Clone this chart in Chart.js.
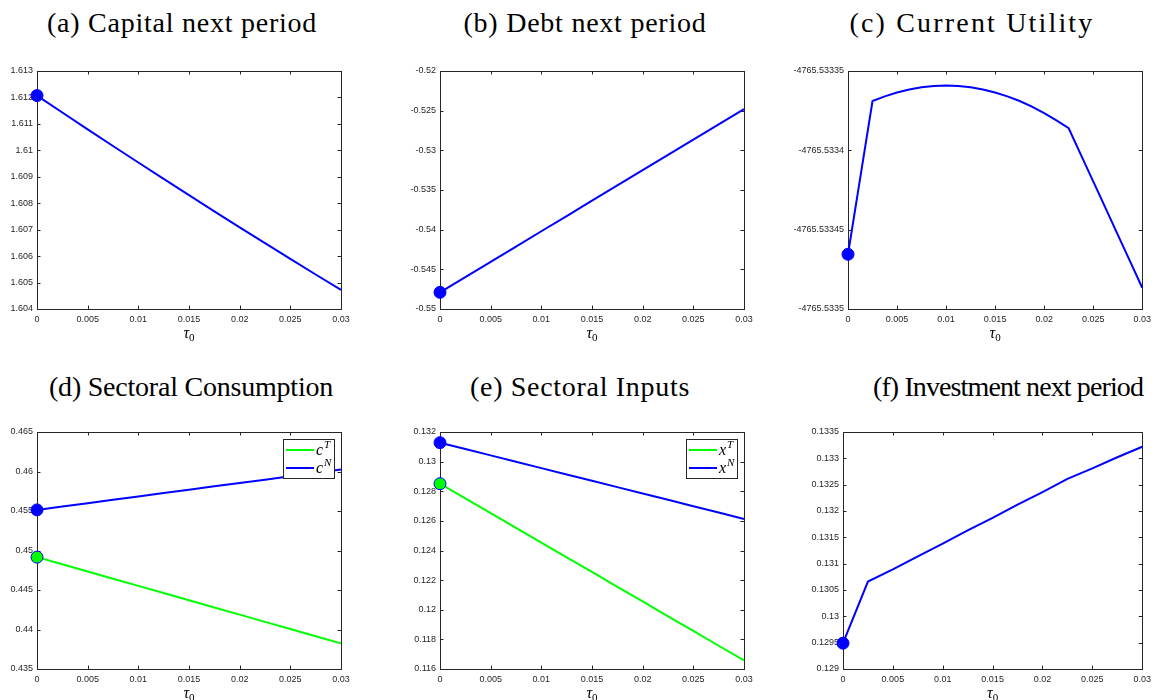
<!DOCTYPE html>
<html>
<head>
<meta charset="utf-8">
<script src="https://cdn.jsdelivr.net/npm/chart.js@4.4.1/dist/chart.umd.min.js"></script>
<style>
  html, body { margin: 0; padding: 0; background: #fff; }
  body { width: 1156px; height: 700px; position: relative; overflow: hidden; }
  .panel { position: absolute; }
  .panel canvas { position: absolute; left: 0; top: 0; }
  .title {
    position: absolute; white-space: nowrap; transform: translateX(-50%);
    font-family: "Liberation Serif", "DejaVu Serif", serif; font-size: 28px; line-height: 30px; color: #000;
  }
</style>
</head>
<body>
<script>
// tau_0 grids and axis ticks
const tau = [0, 0.0025, 0.005, 0.0075, 0.01, 0.0125, 0.015, 0.0175, 0.02, 0.0225, 0.025, 0.0275, 0.03];
const tauFine = [0, 0.00125, 0.0025, 0.00375, 0.005, 0.00625, 0.0075, 0.00875, 0.01, 0.01125, 0.0125, 0.01375, 0.015,
                 0.01625, 0.0175, 0.01875, 0.02, 0.02125, 0.0225, 0.02375, 0.025, 0.02625, 0.0275, 0.02875, 0.03];
const tauTicks = [0, 0.005, 0.01, 0.015, 0.02, 0.025, 0.03];

// (a) capital next period
const capitalNext = [1.61207, 1.61143, 1.610795, 1.610165, 1.60954, 1.60892, 1.608305, 1.607695, 1.60709, 1.60649, 1.605895, 1.605305, 1.60472];
const capitalTicks = [1.604, 1.605, 1.606, 1.607, 1.608, 1.609, 1.61, 1.611, 1.612, 1.613];

// (b) debt next period
const debtNext = [-0.5479, -0.54598, -0.54405, -0.54213, -0.5402, -0.53828, -0.53635, -0.53443, -0.5325, -0.53058, -0.52865, -0.52673, -0.5248];
const debtTicks = [-0.55, -0.545, -0.54, -0.535, -0.53, -0.525, -0.52];

// (c) current utility, on the finer grid
const utility = [-4765.5334655, -4765.5334172, -4765.5333689, -4765.5333660, -4765.5333636, -4765.5333617, -4765.5333603,
                 -4765.5333595, -4765.5333592, -4765.5333595, -4765.5333603, -4765.5333617, -4765.5333636, -4765.5333660,
                 -4765.5333689, -4765.5333725, -4765.5333765, -4765.5333811, -4765.5333861, -4765.5334029, -4765.5334196,
                 -4765.5334363, -4765.5334531, -4765.5334698, -4765.5334866];
const utilityTicks = [-4765.5335, -4765.53345, -4765.5334, -4765.53335];

// (d) sectoral consumption
const consT = [0.44916, 0.44825, 0.44734, 0.44643, 0.44552, 0.44461, 0.4437, 0.44279, 0.44188, 0.44097, 0.44006, 0.43915, 0.43824];
const consN = [0.45514, 0.45557, 0.45599, 0.45642, 0.45684, 0.45727, 0.45769, 0.45812, 0.45854, 0.45897, 0.45939, 0.45982, 0.46024];
const consTicks = [0.435, 0.44, 0.445, 0.45, 0.455, 0.46, 0.465];

// (e) sectoral inputs
const inputT = [0.12851, 0.12752, 0.12652, 0.12553, 0.12453, 0.12354, 0.12255, 0.12155, 0.12056, 0.11956, 0.11857, 0.11757, 0.11658];
const inputN = [0.13128, 0.13085, 0.13042, 0.12999, 0.12956, 0.12913, 0.12871, 0.12828, 0.12785, 0.12742, 0.12699, 0.12656, 0.12613];
const inputTicks = [0.116, 0.118, 0.12, 0.122, 0.124, 0.126, 0.128, 0.13, 0.132];

// (f) investment next period
const investNext = [0.12949, 0.13066, 0.13089, 0.13114, 0.13138, 0.13163, 0.13187, 0.13212, 0.13236, 0.13261, 0.13281, 0.13302, 0.13322];
const investTicks = [0.129, 0.1295, 0.13, 0.1305, 0.131, 0.1315, 0.132, 0.1325, 0.133, 0.1335];

const BLUE = '#0000ff';
const GREEN = '#00ff00';
const AXIS = '#262626';
const SERIF = '"Liberation Serif", "DejaVu Serif", serif';
const SANS = '"Liberation Sans", Arial, sans-serif';

// draws the box and inward tick marks on all four sides
const framePlugin = {
  id: 'frame',
  beforeDatasetsDraw(chart) {
    const { ctx, chartArea: a, scales } = chart;
    const L = 3.5;
    ctx.save();
    ctx.strokeStyle = AXIS;
    ctx.lineWidth = 1;
    ctx.beginPath();
    scales.x.ticks.forEach(t => {
      const px = Math.round(scales.x.getPixelForValue(t.value)) + 0.5;
      ctx.moveTo(px, a.bottom); ctx.lineTo(px, a.bottom - L);
      ctx.moveTo(px, a.top); ctx.lineTo(px, a.top + L);
    });
    scales.y.ticks.forEach(t => {
      const py = Math.round(scales.y.getPixelForValue(t.value)) + 0.5;
      ctx.moveTo(a.left, py); ctx.lineTo(a.left + L, py);
      ctx.moveTo(a.right, py); ctx.lineTo(a.right - L, py);
    });
    ctx.stroke();
    ctx.strokeRect(Math.round(a.left) + 0.5, Math.round(a.top) + 0.5,
                   Math.round(a.right - a.left), Math.round(a.bottom - a.top));
    ctx.restore();
  },
  afterDraw(chart, args, opts) {
    const { ctx, chartArea: a } = chart;
    ctx.save();
    // x-axis label: tau with subscript 0
    const cx = (a.left + a.right) / 2;
    const by = a.bottom + 29;
    ctx.fillStyle = '#000';
    ctx.textBaseline = 'alphabetic';
    ctx.font = 'italic 16px ' + SERIF;
    const wt = ctx.measureText('τ').width;
    ctx.font = '11px ' + SERIF;
    const w0 = ctx.measureText('0').width;
    let x = cx - (wt + w0) / 2;
    ctx.font = 'italic 16px ' + SERIF;
    ctx.fillText('τ', x, by);
    ctx.font = '11px ' + SERIF;
    ctx.fillText('0', x + wt, by + 3);

    // legend box with superscript labels
    if (opts.legend) {
      const items = chart.data.datasets.map(d => ({ color: d.borderColor, base: opts.legend.base, sup: d.label }));
      ctx.font = 'italic 16px ' + SERIF;
      const wb = ctx.measureText(opts.legend.base).width;
      ctx.font = 'italic 11px ' + SERIF;
      const ws = Math.max(...items.map(it => ctx.measureText(it.sup).width));
      const bw = Math.round(3 + 28 + 2 + wb + ws + 4);
      const bh = 39;
      const bx = Math.round(a.right - 7 - bw);
      const byy = Math.round(a.top + 7);
      ctx.fillStyle = '#fff';
      ctx.fillRect(bx, byy, bw, bh);
      ctx.strokeStyle = AXIS;
      ctx.lineWidth = 1;
      ctx.strokeRect(bx + 0.5, byy + 0.5, bw, bh);
      items.forEach((it, i) => {
        const ly = byy + 11 + i * 18;
        ctx.strokeStyle = it.color;
        ctx.lineWidth = 2;
        ctx.beginPath();
        ctx.moveTo(bx + 3, ly); ctx.lineTo(bx + 31, ly);
        ctx.stroke();
        ctx.fillStyle = '#000';
        ctx.font = 'italic 16px ' + SERIF;
        ctx.fillText(it.base, bx + 33, ly + 5);
        ctx.font = 'italic 11px ' + SERIF;
        ctx.fillText(it.sup, bx + 33 + wb + 1, ly - 2);
      });
    }
    ctx.restore();
  }
};

function series(values, color, fill, label, grid) {
  const xs = grid || tau;
  return {
    label: label || '',
    data: xs.map((t, i) => ({ x: t, y: values[i] })),
    borderColor: color,
    borderWidth: 2,
    pointRadius: c => (c.dataIndex === 0 ? 6 : 0),
    pointBackgroundColor: fill || color,
    pointBorderColor: BLUE,
    pointBorderWidth: 1,
    pointHoverRadius: 0,
    tension: 0,
    clip: false
  };
}

function tickOpts(list) {
  return {
    afterBuildTicks: s => { s.ticks = list.map(v => ({ value: v })); },
    ticks: {
      autoSkip: false, maxRotation: 0, color: AXIS,
      font: { family: SANS, size: 9 },
      callback: v => String(v)
    },
    grid: { display: false, drawTicks: false },
    border: { display: false }
  };
}

// panel boxes on the page, plot area inside each, title centre and title width
const panels = [
  { title: '(a) Capital next period', box: [0, 0, 385, 350], plot: [37, 71, 341, 309], tc: 182, tw: 270,
    sets: [series(capitalNext, BLUE)], yt: capitalTicks },
  { title: '(b) Debt next period', box: [385, 0, 385, 350], plot: [440, 71, 744, 309], tc: 585, tw: 243,
    sets: [series(debtNext, BLUE)], yt: debtTicks },
  { title: '(c) Current Utility', box: [770, 0, 386, 350], plot: [848, 71, 1147, 309], tc: 972, tw: 245,
    sets: [series(utility, BLUE, BLUE, '', tauFine)], yt: utilityTicks },
  { title: '(d) Sectoral Consumption', box: [0, 350, 385, 350], plot: [37, 432, 341, 669], tc: 191, tw: 284,
    sets: [series(consT, GREEN, GREEN, 'T'), series(consN, BLUE, BLUE, 'N')], yt: consTicks, legend: { base: 'c' } },
  { title: '(e) Sectoral Inputs', box: [385, 350, 385, 350], plot: [440, 432, 744, 669], tc: 580, tw: 220,
    sets: [series(inputT, GREEN, GREEN, 'T'), series(inputN, BLUE, BLUE, 'N')], yt: inputTicks, legend: { base: 'x' } },
  { title: '(f) Investment next period', box: [770, 350, 386, 350], plot: [843, 432, 1147, 669], tc: 1008, tw: 270,
    sets: [series(investNext, BLUE)], yt: investTicks }
];

panels.forEach(p => {
  const [bx, by, bw, bh] = p.box;
  const div = document.createElement('div');
  div.className = 'panel';
  div.style.left = bx + 'px';
  div.style.top = by + 'px';
  div.style.width = bw + 'px';
  div.style.height = bh + 'px';
  document.body.appendChild(div);

  const title = document.createElement('div');
  title.className = 'title';
  title.textContent = p.title;
  title.style.left = (p.tc - bx) + 'px';
  title.style.top = (by === 0 ? 8 : 22) + 'px';
  div.appendChild(title);
  // spread or tighten the letters so the caption spans its width
  const natural = title.getBoundingClientRect().width;
  title.style.letterSpacing = ((p.tw - natural) / p.title.length) + 'px';

  const canvas = document.createElement('canvas');
  canvas.width = bw;
  canvas.height = bh;
  canvas.style.width = bw + 'px';
  canvas.style.height = bh + 'px';
  div.appendChild(canvas);

  const left = p.plot[0] - bx, top = p.plot[1] - by, right = p.plot[2] - bx, bottom = p.plot[3] - by;
  const xs = tickOpts(tauTicks);
  const ys = tickOpts(p.yt);

  new Chart(canvas.getContext('2d'), {
    type: 'line',
    data: { datasets: p.sets },
    options: {
      responsive: false,
      animation: false,
      events: [],
      layout: { padding: { left: 0, top: top, right: bw - right, bottom: 0 } },
      plugins: {
        legend: { display: false },
        tooltip: { enabled: false },
        frame: { legend: p.legend }
      },
      scales: {
        x: Object.assign({ type: 'linear', min: tauTicks[0], max: tauTicks[tauTicks.length - 1],
          afterFit: s => { s.height = bh - bottom; } }, xs, { ticks: Object.assign({}, xs.ticks, { padding: 5 }) }),
        y: Object.assign({ type: 'linear', min: p.yt[0], max: p.yt[p.yt.length - 1],
          afterFit: s => { s.width = left; } }, ys, { ticks: Object.assign({}, ys.ticks, { padding: 4 }) })
      }
    },
    plugins: [framePlugin]
  });
});
</script>
</body>
</html>
